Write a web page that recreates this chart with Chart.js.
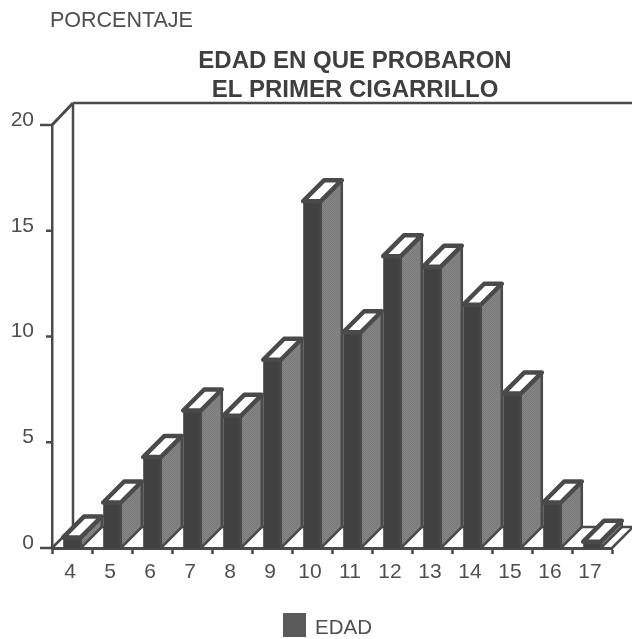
<!DOCTYPE html>
<html><head><meta charset="utf-8">
<style>html,body{margin:0;padding:0;background:#fff}#w{width:632px;height:639px;position:relative}</style>
<script src="https://cdn.jsdelivr.net/npm/chart.js@4/dist/chart.umd.min.js"></script>
</head><body><div id="w"><canvas id="c" width="632" height="639"></canvas></div>
<script>
const categories = ['4','5','6','7','8','9','10','11','12','13','14','15','16','17'];
const edad = [0.5,2.15,4.3,6.5,6.25,8.9,16.4,10.2,13.8,13.3,11.5,7.3,2.15,0.3];
const seriesName = 'EDAD';
const yLabel = 'PORCENTAJE';
const titleLines = ['EDAD EN QUE PROBARON','EL PRIMER CIGARRILLO'];

const INK='#4a4a4a', FRONT='#414141', LEGEND='#5a5a5a', TXT='#4f4f4f', DEPTH=21;
const FONT='"Liberation Sans", Arial, sans-serif';

function stipple(ctx){
  const p=document.createElement('canvas');p.width=2;p.height=2;
  const g=p.getContext('2d');
  g.fillStyle='#868686';g.fillRect(0,0,2,2);
  g.fillStyle='#7a7a7a';g.fillRect(0,0,1,1);g.fillRect(1,1,1,1);
  return ctx.createPattern(p,'repeat');
}
function poly(ctx,pts,fill,lw){
  ctx.beginPath();pts.forEach((q,i)=>i?ctx.lineTo(q[0],q[1]):ctx.moveTo(q[0],q[1]));ctx.closePath();
  ctx.fillStyle=fill;ctx.fill();ctx.lineWidth=lw;ctx.strokeStyle=INK;ctx.lineJoin='round';ctx.stroke();
}
function line(ctx,x1,y1,x2,y2,lw){
  ctx.beginPath();ctx.moveTo(x1,y1);ctx.lineTo(x2,y2);ctx.lineWidth=lw;ctx.strokeStyle=INK;ctx.stroke();
}
const box3d={
  id:'box3d',
  beforeDatasetsDraw(chart){
    const {ctx,chartArea:a,scales:{y}}=chart;
    ctx.save();
    const W=chart.width;
    line(ctx,a.left+DEPTH,a.top-22,a.left+DEPTH,a.bottom-DEPTH,2.5);
    line(ctx,a.left+DEPTH,a.top-22,W,a.top-22,2.5);
    line(ctx,a.left+DEPTH,a.bottom-DEPTH,W,a.bottom-DEPTH,2.5);
    line(ctx,a.left,a.top,a.left+DEPTH,a.top-22,3);
    line(ctx,a.left,a.bottom,a.left+DEPTH,a.bottom-DEPTH,2.5);
    line(ctx,a.right,a.bottom,a.right+DEPTH,a.bottom-DEPTH,2.5);
    y.ticks.forEach(t=>{
      const py=y.getPixelForValue(t.value);
      const len=(t.value===y.min||t.value===y.max)?12:6;
      line(ctx,a.left-len,py,a.left,py,2.5);
    });
    ctx.restore();
  },
  afterDatasetsDraw(chart){
    const {ctx}=chart, pat=stipple(ctx);
    ctx.save();
    chart.getDatasetMeta(0).data.forEach(b=>{
      const l=b.x-b.width/2,r=b.x+b.width/2,t=b.y,bs=b.base;
      poly(ctx,[[r,t],[r+DEPTH,t-DEPTH],[r+DEPTH,bs-DEPTH],[r,bs]],pat,2.5);
      poly(ctx,[[l,t],[l+DEPTH,t-DEPTH],[r+DEPTH,t-DEPTH],[r,t]],'#ffffff',4.5);
    });
    ctx.restore();
  },
  afterDraw(chart){
    const {ctx}=chart;
    ctx.save();
    ctx.fillStyle=TXT;ctx.textBaseline='alphabetic';ctx.textAlign='left';
    ctx.font='21.5px '+FONT;
    ctx.fillText(yLabel,50,27);
    ctx.textAlign='center';ctx.fillStyle='#3f3f3f';ctx.font='bold 24px '+FONT;
    ctx.fillText(titleLines[0],355,68);
    ctx.fillText(titleLines[1],355,97);
    ctx.fillStyle=LEGEND;ctx.fillRect(283,613,23,24);
    ctx.fillStyle=TXT;ctx.textAlign='left';ctx.font='20.5px '+FONT;
    ctx.fillText(seriesName,315,634);
    ctx.restore();
  }
};
new Chart(document.getElementById('c'),{
  type:'bar',
  data:{labels:categories,datasets:[{label:seriesName,data:edad,backgroundColor:FRONT,borderWidth:0,barPercentage:0.44,categoryPercentage:1}]},
  plugins:[box3d],
  options:{
    responsive:false,animation:false,
    layout:{padding:{top:125,right:20,left:0,bottom:0}},
    plugins:{legend:{display:false},title:{display:false},tooltip:{enabled:false}},
    scales:{
      x:{
        afterFit(s){s.height=91;},
        border:{display:true,color:INK,width:3},
        grid:{display:true,drawOnChartArea:false,drawTicks:true,tickLength:6,tickWidth:2.5,tickColor:INK},
        ticks:{color:TXT,font:{family:FONT,size:21},padding:6,labelOffset:-2,maxRotation:0,autoSkip:false}
      },
      y:{
        min:0,max:20,
        afterFit(s){s.width=52;},
        border:{display:true,color:INK,width:2.5},
        grid:{display:false,drawTicks:false},
        ticks:{stepSize:5,color:TXT,font:{family:FONT,size:21},padding:18,labelOffset:-5}
      }
    }
  }
});
</script></body></html>
